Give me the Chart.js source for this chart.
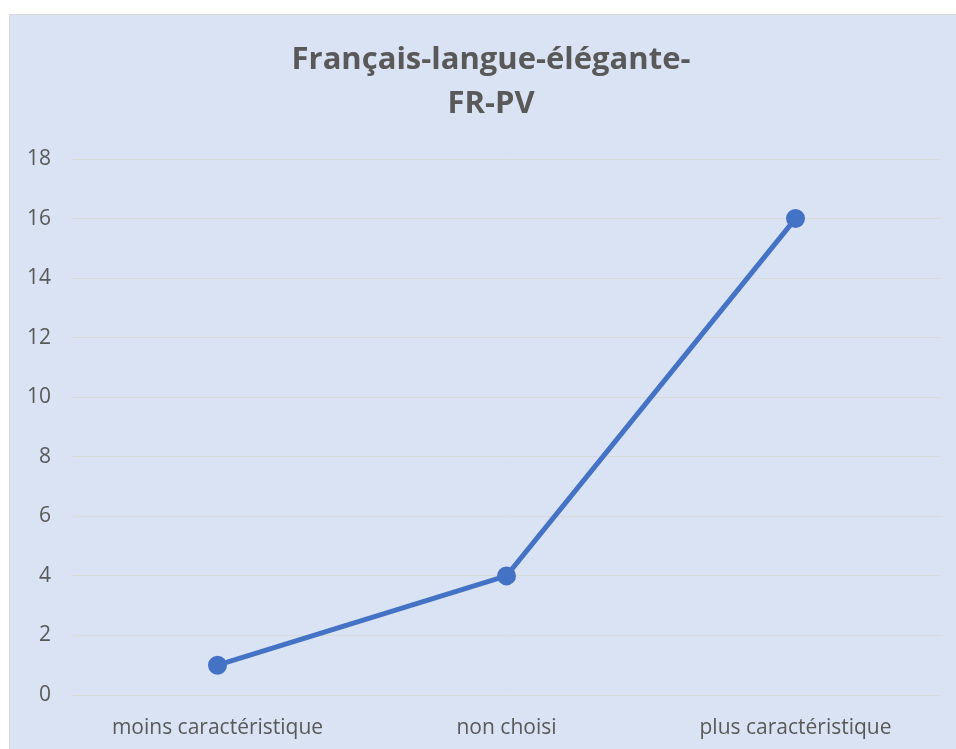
<!DOCTYPE html>
<html><head><meta charset="utf-8">
<script src="https://cdn.jsdelivr.net/npm/chart.js@4"></script>
<style>
html,body{margin:0;padding:0;background:#fff;overflow:hidden;width:956px;height:749px;}
#box{position:absolute;left:9px;top:14px;width:960px;height:760px;border:1px solid #d9d9d9;background:#dae3f3;}
canvas{position:absolute;left:0;top:0;}
</style></head><body>
<div id="box"><canvas id="c" width="946" height="734"></canvas></div>
<script>
const categories = ["moins caractéristique", "non choisi", "plus caractéristique"];
const values = [1, 4, 16];
const titleLines = ["Français-langue-élégante-", "FR-PV"];
const yTicks = [0, 2, 4, 6, 8, 10, 12, 14, 16, 18];

const FONT = "'Open Sans', sans-serif";
const shiftTitle = {
  id: 'shiftTitle',
  afterLayout(chart) {
    if (chart.titleBlock) { chart.titleBlock.left += 32; }
  }
};
new Chart(document.getElementById('c'), {
  type: 'line',
  data: {
    labels: categories,
    datasets: [{
      data: values,
      borderColor: '#4472c4',
      backgroundColor: '#4472c4',
      borderWidth: 5,
      pointRadius: 7,
      pointHoverRadius: 7,
      pointBackgroundColor: '#4472c4',
      pointBorderColor: '#4472c4',
      tension: 0
    }]
  },
  plugins: [shiftTitle],
  options: {
    responsive: false,
    animation: false,
    events: [],
    layout: { padding: { left: 0, right: 16, top: 0, bottom: 0 } },
    plugins: {
      legend: { display: false },
      tooltip: { enabled: false },
      title: {
        display: true,
        text: titleLines,
        color: '#595959',
        font: { family: FONT, size: 31, weight: 'bold', lineHeight: 1.42 },
        padding: { top: 23, bottom: 33 }
      }
    },
    scales: {
      x: {
        offset: true,
        grid: { display: false, drawTicks: false },
        border: { display: false },
        ticks: { color: '#595959', font: { family: FONT, size: 21 }, padding: 20 },
        afterFit: s => { s.height = 54; }
      },
      y: {
        min: 0, max: 18,
        afterBuildTicks: s => { s.ticks = yTicks.map(v => ({ value: v })); },
        grid: { color: '#d9d9d9', lineWidth: 1, drawTicks: false },
        border: { display: false },
        ticks: { color: '#595959', font: { family: FONT, size: 21 }, padding: 22 },
        afterFit: s => { s.width = 63; }
      }
    }
  }
});
</script></body></html>
